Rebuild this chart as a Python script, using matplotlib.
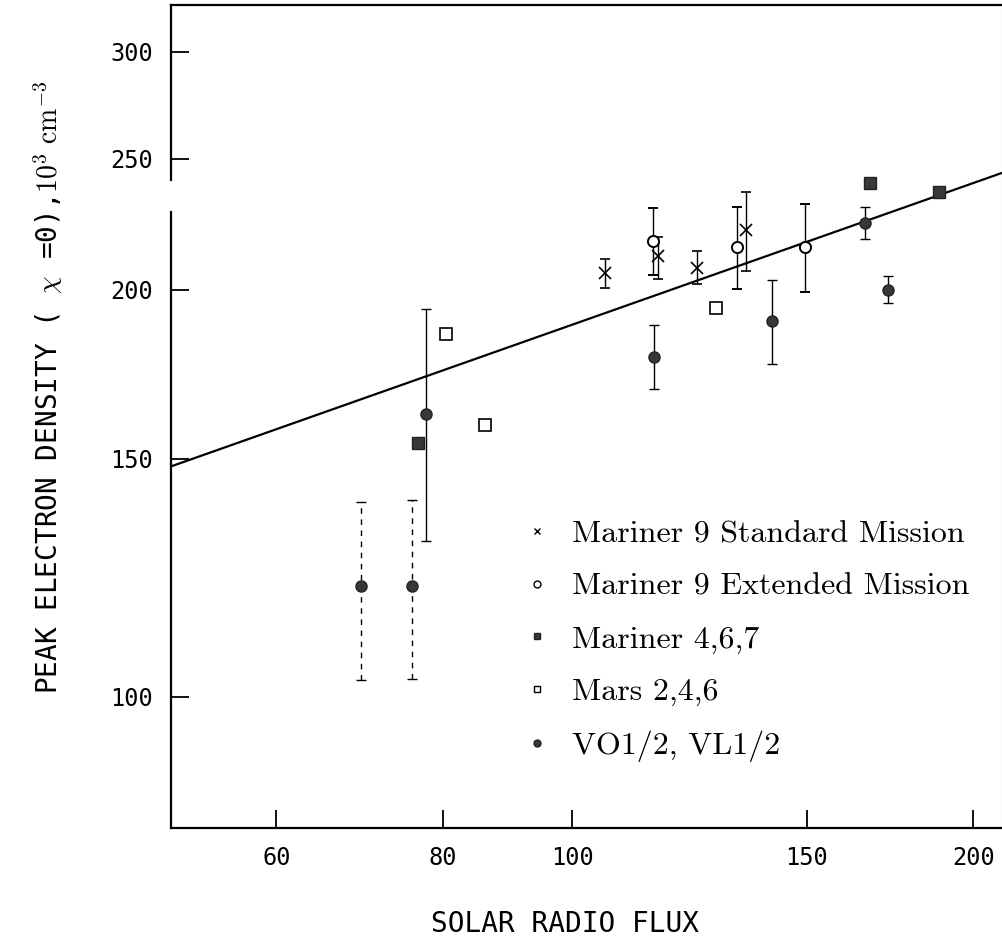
import matplotlib
matplotlib.use("Agg")
import matplotlib.pyplot as plt
from matplotlib.lines import Line2D

# Mariner 9 standard mission (x)
m9_std_flux = [105.9, 115.9, 124.0, 135.1]
m9_std_ne = [205.9, 211.8, 207.4, 221.4]
m9_std_lo = [200.5, 203.6, 202.0, 206.4]
m9_std_hi = [210.6, 218.9, 213.5, 236.2]

# Mariner 9 extended mission (open circles)
m9_ext_flux = [115.0, 133.0, 149.5]
m9_ext_ne = [217.3, 215.2, 215.2]
m9_ext_lo = [205.2, 200.2, 199.4]
m9_ext_hi = [229.9, 230.3, 231.4]

# Mariner 4,6,7 (filled squares)
mariner_flux = [76.7, 167.4, 188.6]
mariner_ne = [154.1, 239.9, 236.2]

# Mars 2,4,6 (open squares)
mars_flux = [80.5, 86.1, 128.2]
mars_ne = [185.6, 158.8, 193.9]

# Viking VO1/2, VL1/2 (filled circles)
viking_flux = [69.4, 75.8, 77.7, 115.1, 141.3, 165.8, 172.5]
viking_ne = [120.7, 120.7, 161.8, 178.2, 189.5, 223.9, 200.0]
viking_lo = [102.9, 103.0, 130.4, 168.8, 176.2, 217.9, 195.6]
viking_hi = [139.3, 139.7, 193.6, 188.4, 203.2, 230.3, 204.8]
viking_dashed = [True, True, False, False, False, False, False]

# regression line end points
fit_flux = [50, 210]
fit_ne = [148.0, 244.0]

x_ticks = [60, 80, 100, 150, 200]
y_ticks = [100, 150, 200, 250, 300]

legend_labels = ['Mariner 9 Standard Mission', 'Mariner 9 Extended Mission',
                 'Mariner 4,6,7', 'Mars 2,4,6', 'VO1/2, VL1/2']

plt.rcParams['mathtext.fontset'] = 'cm'

fig = plt.figure(figsize=(10.03, 9.43), dpi=100)
ax = fig.add_axes([0.1702, 0.1223, 0.8285, 0.8727])
ax.set_xscale('log')
ax.set_yscale('log')

fill = '#383838'
eb = dict(ecolor='black', elinewidth=1.0, capsize=3.5, capthick=1.0, linestyle='none')

# fit line
ax.plot(fit_flux, fit_ne, color='black', lw=1.6, zorder=2)


def err(vals, lo, hi):
    return [[v - l for v, l in zip(vals, lo)], [h - v for v, h in zip(vals, hi)]]


ax.errorbar(m9_std_flux, m9_std_ne, yerr=err(m9_std_ne, m9_std_lo, m9_std_hi),
            marker='x', ms=8, mew=1.2, color='black', **eb)
ax.errorbar(m9_ext_flux, m9_ext_ne, yerr=err(m9_ext_ne, m9_ext_lo, m9_ext_hi),
            marker='o', ms=8, mew=1.4, mfc='white', mec='black', zorder=4, **eb)
ax.plot(mariner_flux, mariner_ne, linestyle='none', marker='s', ms=8,
        mfc=fill, mec='#222222', zorder=4)
ax.plot(mars_flux, mars_ne, linestyle='none', marker='s', ms=8, mew=1.2,
        mfc='white', mec='black', zorder=4)

for i in range(len(viking_flux)):
    c = ax.errorbar([viking_flux[i]], [viking_ne[i]],
                    yerr=err([viking_ne[i]], [viking_lo[i]], [viking_hi[i]]),
                    marker='o', ms=8, mfc=fill, mec='#222222', zorder=4, **eb)
    if viking_dashed[i]:
        c[2][0].set_linestyle((0, (4, 4)))

ax.set_xlim(50, 210)
ax.set_ylim(80, 325)
ax.set_xticks(x_ticks)
ax.set_xticklabels([str(t) for t in x_ticks])
ax.set_yticks(y_ticks)
ax.set_yticklabels([str(t) for t in y_ticks])
ax.minorticks_off()
ax.tick_params(direction='in', length=13, width=1.3, pad=13,
               labelsize=17, top=False, right=False)
for lab in ax.get_xticklabels() + ax.get_yticklabels():
    lab.set_family('DejaVu Sans Mono')

# spines: left has a break as in the scanned figure, right is faint
ax.spines['left'].set_visible(False)
ax.plot([0, 0], [0, 0.748], transform=ax.transAxes, color='black', lw=1.6, clip_on=False)
ax.plot([0, 0], [0.787, 1], transform=ax.transAxes, color='black', lw=1.6, clip_on=False)
ax.spines['bottom'].set_linewidth(1.6)
ax.spines['top'].set_linewidth(1.6)
ax.spines['right'].set_color('#aaaaaa')
ax.spines['right'].set_linewidth(0.8)
ax.spines['right'].set_linestyle((0, (4, 2)))

lab_font = 'DejaVu Sans Mono'
ax.set_xlabel('SOLAR RADIO FLUX', family=lab_font, fontsize=20)
ax.xaxis.set_label_coords(0.475, -0.1)
ax.set_ylabel(r'PEAK ELECTRON DENSITY ( $\chi$ =0),$\mathrm{10^3\ cm^{-3}}$',
              family=lab_font, fontsize=20)
ax.yaxis.set_label_coords(-0.127, 0.535)

handles = [
    Line2D([], [], ls='none', marker='x', ms=5, mew=1.0, color='black'),
    Line2D([], [], ls='none', marker='o', ms=5, mew=1.0, mfc='white', mec='black'),
    Line2D([], [], ls='none', marker='s', ms=5, mfc=fill, mec='#222222'),
    Line2D([], [], ls='none', marker='s', ms=5, mew=1.0, mfc='white', mec='black'),
    Line2D([], [], ls='none', marker='o', ms=5, mfc=fill, mec='#222222'),
]
ax.legend(handles, legend_labels, loc='upper left', bbox_to_anchor=(0.4216, 0.374),
          frameon=False, borderaxespad=0, borderpad=0, handlelength=1.0,
          handletextpad=0.6, labelspacing=0.76, numpoints=1,
          prop={'family': 'cmr10', 'size': 23})

fig.savefig('out.png', dpi=100)
